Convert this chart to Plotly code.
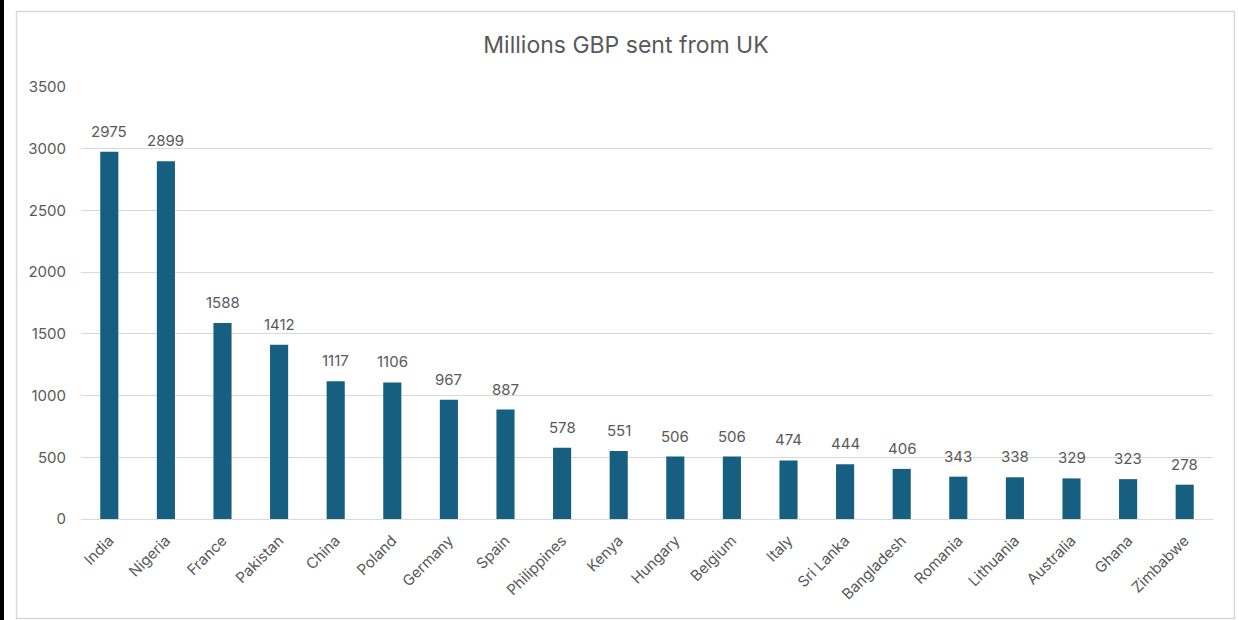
import plotly.graph_objects as go

countries = ["India", "Nigeria", "France", "Pakistan", "China", "Poland", "Germany", "Spain",
             "Philippines", "Kenya", "Hungary", "Belgium", "Italy", "Sri Lanka", "Bangladesh",
             "Romania", "Lithuania", "Australia", "Ghana", "Zimbabwe"]
values = [2975, 2899, 1588, 1412, 1117, 1106, 967, 887, 578, 551, 506, 506, 474, 444, 406,
          343, 338, 329, 323, 278]
y_ticks = [0, 500, 1000, 1500, 2000, 2500, 3000, 3500]

W, H = 1239, 620
L, R, T, B = 81, 26, 87, 101
pw, ph = W - L - R, H - T - B

def px(x):
    return (x - L) / pw

def py(y):
    return (H - B - y) / ph

FONT = "Inter, Open Sans, sans-serif"
GREY = "#595959"

fig = go.Figure(go.Bar(
    x=countries, y=values,
    marker=dict(color="#175F80", line=dict(width=0)),
    width=0.32,
))

for c, v in zip(countries, values):
    fig.add_annotation(x=c, y=v, text=str(v), showarrow=False, yanchor="bottom",
                       yshift=9, font=dict(family=FONT, size=15, color=GREY))

fig.update_layout(
    width=W, height=H,
    margin=dict(l=L, r=R, t=T, b=B),
    paper_bgcolor="white", plot_bgcolor="white",
    showlegend=False,
    title=dict(text="Millions GBP sent from UK", x=px(626), xref="paper", xanchor="center",
               y=1 - 45 / H, yanchor="middle",
               font=dict(family=FONT, size=23, color=GREY)),
    xaxis=dict(tickangle=-45, tickfont=dict(family=FONT, size=15, color=GREY),
               showgrid=False, showline=False, ticks="", ticklabelstandoff=9),
    yaxis=dict(range=[0, 3500], tickvals=y_ticks, showgrid=True, gridcolor="#d9d9d9",
               gridwidth=1, zeroline=True, zerolinecolor="#d9d9d9", zerolinewidth=1,
               tickfont=dict(family=FONT, size=15, color=GREY), ticks="", ticklabelstandoff=14),
    shapes=[
        dict(type="rect", xref="paper", yref="paper",
             x0=px(16.5), x1=px(1234.5), y0=py(618.5), y1=py(11.5),
             line=dict(color="#d9d9d9", width=1.5), fillcolor="rgba(0,0,0,0)", layer="below"),
        dict(type="line", xref="paper", yref="paper",
             x0=px(2), x1=px(2), y0=py(625), y1=py(-5),
             line=dict(color="black", width=4)),
    ],
)

fig.write_html("out.html")
